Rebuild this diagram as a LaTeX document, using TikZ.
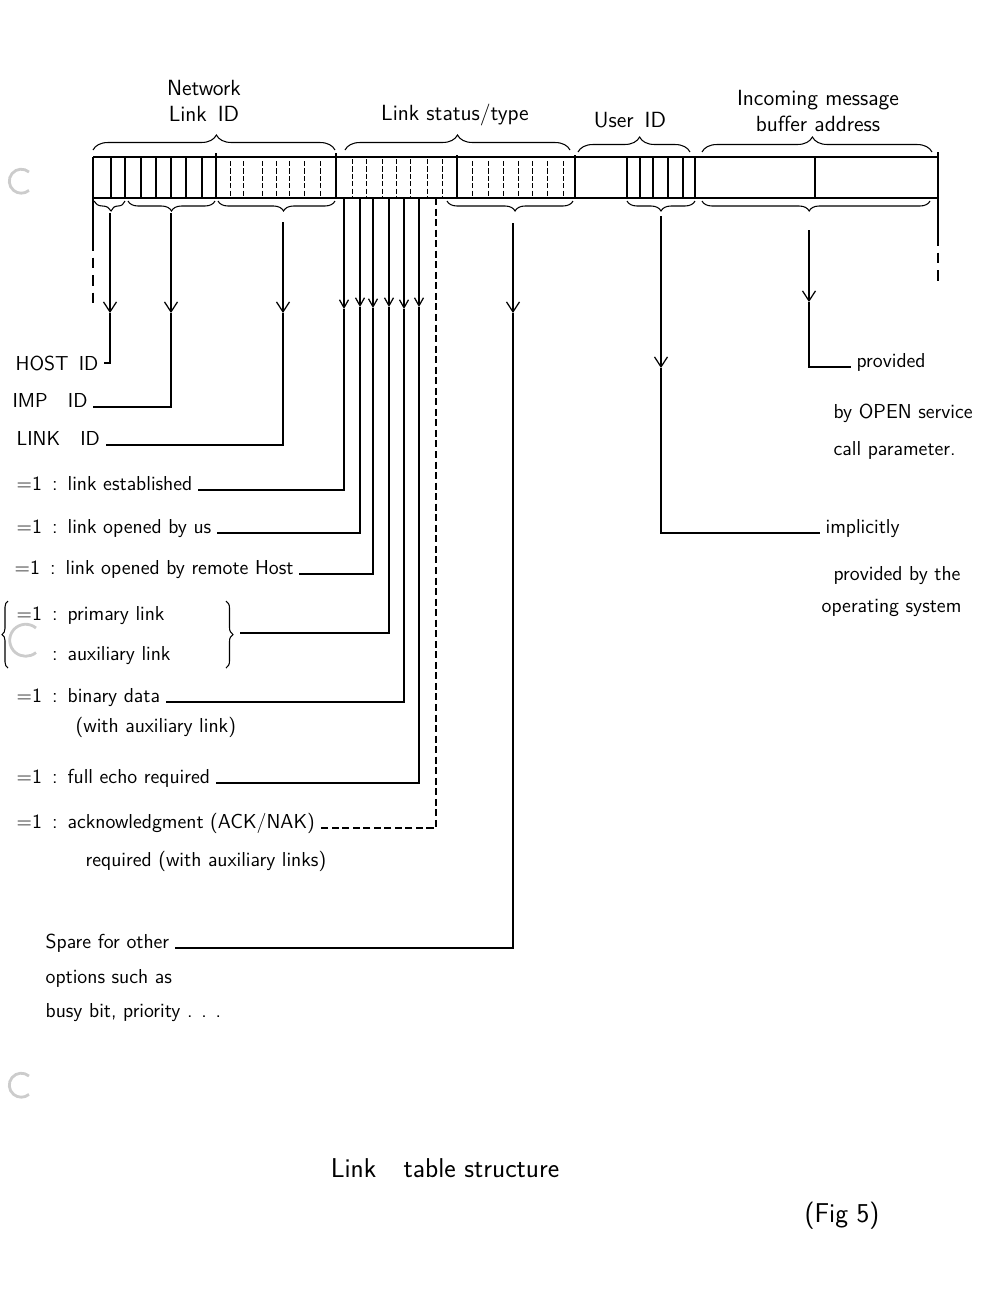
\documentclass[tikz,border=0pt]{standalone}
\usetikzlibrary{decorations.pathreplacing,arrows.meta}
\begin{document}
\begin{tikzpicture}[x=0.02cm,y=-0.02cm,
  lbl/.style={font=\sffamily\fontsize{11.5}{13}\selectfont,inner sep=3pt},
  toplbl/.style={font=\sffamily\fontsize{12.5}{15}\selectfont,align=center,inner sep=1pt},
  rlbl/.style={font=\sffamily\fontsize{11.5}{13}\selectfont,inner sep=3pt,anchor=base west},
  ttl/.style={font=\sffamily\fontsize{15.5}{18}\selectfont},
  rowline/.style={line width=0.8pt},
  bitsolid/.style={line width=0.6pt},
  bitdash/.style={line width=0.5pt,dash pattern=on 3pt off 1.2pt},
  fieldsep/.style={line width=1.1pt},
  brcup/.style={decorate,decoration={brace,amplitude=0.3cm,aspect=#1},line width=0.6pt},
  brcup/.default=0.5,
  brcdn/.style={decorate,decoration={brace,mirror,amplitude=0.2cm,aspect=#1},line width=0.6pt},
  brcdn/.default=0.5,
  conn/.style={line width=0.7pt},
  dconn/.style={line width=0.7pt,dash pattern=on 4pt off 2pt},
  edgedash/.style={line width=0.7pt,dash pattern=on 6pt off 4pt},
  arr/.style={line width=0.7pt,-{Straight Barb[length=0.2cm,width=0.26cm,line width=0.7pt]}},
  sarr/.style={line width=0.7pt,-{Straight Barb[length=0.16cm,width=0.18cm,line width=0.7pt]}},
  punch/.style={gray!40,line width=1.6pt}
]
\useasboundingbox (0,0) rectangle (1000,1292);

% ---------- the table row ----------
\draw[rowline] (93,157) -- (938,157);
\draw[rowline] (93,198) -- (938,198);
\draw[fieldsep] (93,157) -- (93,198);
\foreach \x in {111,125,141,156,171,186,202} \draw[bitsolid] (\x,157) -- (\x,198);
\draw[fieldsep] (216,153) -- (216,198);
\foreach \x in {230,243,262,276,289,304,320} \draw[bitdash] (\x,161) -- (\x,198);
\draw[fieldsep] (336,153) -- (336,198);
\foreach \x in {352,366,382,396,410,427,442} \draw[bitdash] (\x,159) -- (\x,198);
\draw[fieldsep] (457,155) -- (457,198);
\foreach \x in {472,488,503,518,532,547,563} \draw[bitdash] (\x,161) -- (\x,198);
\draw[fieldsep] (575,155) -- (575,198);
\foreach \x in {627,640,653,668,683} \draw[bitsolid] (\x,157) -- (\x,198);
\draw[fieldsep] (695,157) -- (695,198);
\draw[bitsolid] (815,157) -- (815,198);
\draw[fieldsep] (938,152) -- (938,198);

% edge extensions
\coordinate (le0) at (93,198); \coordinate (le1) at (93,240); \coordinate (le2) at (93,305);
\draw[conn] (le0) -- (le1); \draw[edgedash] (le1) -- (le2);
\coordinate (re0) at (938,198); \coordinate (re1) at (938,235); \coordinate (re2) at (938,285);
\draw[conn] (re0) -- (re1); \draw[edgedash] (re1) -- (re2);

% ---------- upper braces and titles ----------
\draw[brcup=0.51] (93,150) -- (335,150);
\draw[brcup=0.5] (345,150) -- (570,150);
\draw[brcup=0.55] (578,152) -- (690,152);
\draw[brcup=0.48] (702,152) -- (932,152);
\node[toplbl] (netid) at (204,101) {Network\\Link\enspace ID};
\node[toplbl] (stat) at (455,115) {Link status/type};
\node[toplbl] (user) at (630,120) {User\enspace ID};
\node[toplbl] (buf) at (818,111) {Incoming message\\buffer address};

% ---------- lower braces ----------
\draw[brcdn=0.55] (94,201) -- (125,201);
\draw[brcdn=0.5] (128,201) -- (215,201);
\draw[brcdn=0.56] (218,201) -- (335,201);
\draw[brcdn=0.54] (447,201) -- (573,201);
\draw[brcdn=0.5] (627,201) -- (695,201);
\draw[brcdn=0.47] (702,201) -- (930,201);

% ---------- left labels ----------
\node[lbl,anchor=east] (host) at (104,363) {HOST\enspace ID};
\node[lbl,anchor=base west] (imp) at (7,407) {IMP\quad ID};
\node[lbl,anchor=base west] (lnk) at (11,445) {LINK\quad ID};
\node[lbl,anchor=base west] (est) at (11,490) {=1\enspace:\enspace link established};
\node[lbl,anchor=base west] (us) at (11,533) {=1\enspace:\enspace link opened by us};
\node[lbl,anchor=base west] (rem) at (9,574) {=1\enspace:\enspace link opened by remote Host};
\node[lbl,anchor=base west] (prim) at (11,620) {=1\enspace:\enspace primary link};
\node[lbl,anchor=base west] (aux) at (11,660) {\phantom{=1}\enspace:\enspace auxiliary link};
\draw[decorate,decoration={brace,amplitude=0.12cm},line width=0.6pt] (8,668) -- (8,601);
\draw[decorate,decoration={brace,amplitude=0.14cm},line width=0.6pt] (226,601) -- (226,668);
\coordinate (ptip) at (240,633);
\node[lbl,anchor=base west] (bin) at (11,702) {=1\enspace:\enspace binary data};
\node[lbl,anchor=base west] (bin2) at (70,732) {(with auxiliary link)};
\node[lbl,anchor=base west] (echo) at (11,783) {=1\enspace:\enspace full echo required};
\node[lbl,anchor=base west] (ack) at (11,828) {=1\enspace:\enspace acknowledgment (ACK/NAK)};
\node[lbl,anchor=base west] (ack2) at (80,866) {required (with auxiliary links)};
\node[lbl,anchor=base west] (spare) at (40,948) {Spare for other};
\node[lbl,anchor=base west] (spare2) at (40,983) {options such as};
\node[lbl,anchor=base west] (spare3) at (40,1017) {busy bit, priority . . .};

% ---------- right labels ----------
\node[rlbl] (prov) at (851,367) {provided};
\node[rlbl] (prov2) at (828,418) {by OPEN service};
\node[rlbl] (prov3) at (828,455) {call parameter.};
\node[rlbl] (impl) at (820,533) {implicitly};
\node[rlbl] (impl2) at (828,580) {provided by the};
\node[rlbl] (impl3) at (816,612) {operating system};

% ---------- connectors: ID fields ----------
\coordinate (hostT) at (110,213); \coordinate (hostH) at (110,313);
\draw[arr] (hostT) -- (hostH); \draw[conn] (hostH) |- (host.east);
\coordinate (impT) at (171,213); \coordinate (impH) at (171,313);
\draw[arr] (impT) -- (impH); \draw[conn] (impH) |- (imp.base east);
\coordinate (lnkT) at (283,222); \coordinate (lnkH) at (283,313);
\draw[arr] (lnkT) -- (lnkH); \draw[conn] (lnkH) |- (lnk.base east);

% ---------- connectors: status bits ----------
\coordinate (s1T) at (344,198); \coordinate (s1H) at (344,309);
\coordinate (s2T) at (360,198); \coordinate (s2H) at (360,307);
\coordinate (s3T) at (373,198); \coordinate (s3H) at (373,308);
\coordinate (s4T) at (389,198); \coordinate (s4H) at (389,307);
\coordinate (s5T) at (404,198); \coordinate (s5H) at (404,309);
\coordinate (s6T) at (419,198); \coordinate (s6H) at (419,307);
\coordinate (s7T) at (436,198);
\foreach \i in {1,...,6} \draw[sarr] (s\i T) -- (s\i H);
\draw[conn] (s1H) |- (est.base east);
\draw[conn] (s2H) |- (us.base east);
\draw[conn] (s3H) |- (rem.base east);
\draw[conn] (s4H) |- (ptip);
\draw[conn] (s5H) |- (bin.base east);
\draw[conn] (s6H) |- (echo.base east);
\draw[dconn] (s7T) |- (ack.base east);

% ---------- connectors: options, user, buffer ----------
\coordinate (optT) at (513,223); \coordinate (optH) at (513,313);
\draw[arr] (optT) -- (optH); \draw[conn] (optH) |- (spare.base east);
\coordinate (userT) at (661,216); \coordinate (userH) at (661,368);
\draw[arr] (userT) -- (userH); \draw[conn] (userH) |- (impl.base west);
\coordinate (bufT) at (809,230); \coordinate (bufH) at (809,302);
\draw[arr] (bufT) -- (bufH); \draw[conn] (bufH) |- (prov.base west);

% ---------- caption ----------
\node[ttl] (title) at (445,1168) {Link\quad table structure};
\node[ttl] (fig) at (842,1216) {(Fig 5)};

% ---------- punch holes of the scanned sheet ----------
\draw[punch] (29,172) arc[start angle=50,end angle=310,radius=0.24cm];
\draw[punch] (36,628) arc[start angle=50,end angle=310,radius=0.32cm];
\draw[punch] (29,1076) arc[start angle=50,end angle=310,radius=0.24cm];
\end{tikzpicture}
\end{document}
